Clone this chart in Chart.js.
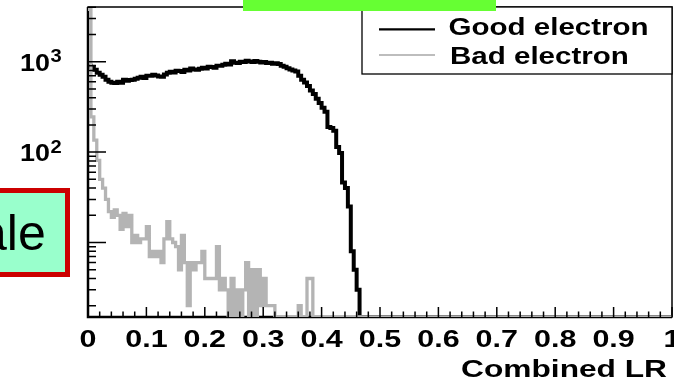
<!DOCTYPE html>
<html><head><meta charset="utf-8">
<script src="https://cdn.jsdelivr.net/npm/chart.js@4"></script>
<style>
html,body{margin:0;padding:0;background:#fff;overflow:hidden;}
#wrap{position:relative;width:674px;height:379px;overflow:hidden;background:#fff;}
canvas{position:absolute;left:0;top:0;}
#green{position:absolute;left:243px;top:0;width:253px;height:11px;background:#66ff33;}
#note{position:absolute;left:-60px;top:188px;width:130px;height:89px;box-sizing:border-box;border:5px solid #cc0000;background:#99ffcc;overflow:hidden;}
#note span{position:absolute;left:34px;top:15px;font:50px/1 'Liberation Sans',Arial,sans-serif;color:#000;white-space:nowrap;}
</style></head><body>
<div id="wrap"><canvas id="c" width="674" height="379"></canvas><div id="green"></div><div id="note"><span>ale</span></div></div>
<script>
// ---- data (histogram bin contents, bin width 0.005 starting at 0; bins after the list are empty) ----
const BIN_WIDTH = 0.005;
const X_MIN = 0, X_MAX = 1;
const Y_MIN = 1.5, Y_MAX = 4030;
const SERIES_NAMES = ['Good electron', 'Bad electron'];
const GOOD = [900,880,815,755,717,680,630,600,585,580,
  600,585,630,615,628,632,648,665,680,662,
  700,698,717,705,685,680,720,755,775,760,
  795,790,770,815,800,840,820,815,836,858,
  840,880,875,860,905,900,925,950,930,1010,
  975,970,1000,995,1025,1005,990,1020,1000,980,
  995,970,975,950,960,945,905,880,845,820,
  800,780,700,630,590,540,480,440,390,350,
  310,280,190,185,172,114,98,46,40,25,
  8,5,3,0];
const BAD = [3800,245,136,81,50,40,30,22,19,23,
  20,14,21,15,20,10,12,10,11,11,
  15,7,8,7,8,6,11,17,11,10,
  9,5,12,6,2,6,5,6,6,8,
  4,4,4,4,9,3,4,3,0,4,
  0,3,0,3,6,0,5,0,5,2,
  4,2,2,2,0,0,0,0,0,0,
  0,0,2,0,0,4,4,0];
const X_TICK_VALUES = [0,0.1,0.2,0.3,0.4,0.5,0.6,0.7,0.8,0.9,1];
const X_TICK_LABELS = ['0','0.1','0.2','0.3','0.4','0.5','0.6','0.7','0.8','0.9','1'];
const Y_TICK_VALUES = [100, 1000];
const Y_TICK_BASE = ['10', '10'];
const Y_TICK_EXP = ['2', '3'];
const X_TITLE = 'Combined LR';

// ---- helpers ----
function histPoints(counts) {
  const pts = counts.map((v, i) => ({x: X_MIN + i * BIN_WIDTH, y: v > Y_MIN ? v : Y_MIN}));
  const last = counts[counts.length - 1];
  pts.push({x: X_MAX, y: last > Y_MIN ? last : Y_MIN});
  return pts;
}
const FONT = '"Liberation Sans", Arial, sans-serif';
function stretchText(ctx, txt, x, y, size, sx, align) {
  ctx.save();
  ctx.font = 'bold ' + size + 'px ' + FONT;
  ctx.fillStyle = '#000';
  ctx.textBaseline = 'alphabetic';
  ctx.textAlign = align;
  ctx.translate(x, y);
  ctx.scale(sx, 1);
  ctx.fillText(txt, 0, 0);
  ctx.restore();
}

const rootFrame = {
  id: 'rootFrame',
  beforeDatasetsDraw(chart) {
    const {ctx, chartArea: a} = chart;
    ctx.save();
    ctx.strokeStyle = '#000';
    ctx.lineWidth = 1.5;
    ctx.strokeRect(a.left, a.top, a.right - a.left, a.bottom - a.top);
    ctx.lineWidth = 2.5;
    ctx.beginPath();
    ctx.moveTo(a.left, a.top); ctx.lineTo(a.left, a.bottom); ctx.lineTo(a.right, a.bottom);
    ctx.stroke();
    ctx.restore();
  },
  afterDatasetsDraw(chart) {
    const {ctx, chartArea: a, scales: {x, y}} = chart;
    ctx.save();
    ctx.strokeStyle = '#000';
    ctx.lineWidth = 1.5;
    ctx.beginPath();
    // x ticks (inside)
    for (let k = 0; k <= 50; k++) {
      const v = k * 0.02;
      const px = x.getPixelForValue(v);
      const major = k % 5 === 0;
      ctx.moveTo(px, a.bottom); ctx.lineTo(px, a.bottom - (major ? 10 : 5.5));
    }
    // y ticks (inside, log)
    [1, 10, 100, 1000].forEach(d => {
      for (let m = 1; m <= 9; m++) {
        const v = m * d;
        if (v < Y_MIN || v > Y_MAX) continue;
        const py = y.getPixelForValue(v);
        ctx.moveTo(a.left, py); ctx.lineTo(a.left + (m === 1 ? 18 : 8), py);
      }
    });
    ctx.stroke();
    ctx.restore();

    // x tick labels
    X_TICK_VALUES.forEach((v, i) => {
      stretchText(ctx, X_TICK_LABELS[i], x.getPixelForValue(v), 347, 24, 1.27, 'center');
    });
    // y tick labels 10^n
    Y_TICK_VALUES.forEach((v, i) => {
      const py = y.getPixelForValue(v);
      stretchText(ctx, Y_TICK_BASE[i], 50, py + 9, 24, 1.12, 'right');
      stretchText(ctx, Y_TICK_EXP[i], 50.5, py + 0.5, 18, 1.12, 'left');
    });
    // axis title
    stretchText(ctx, X_TITLE, 667, 377, 24, 1.32, 'right');

    // legend box
    const ds = chart.data.datasets;
    ctx.save();
    ctx.fillStyle = '#fff';
    ctx.fillRect(362, 7, a.right - 362, 67);
    ctx.strokeStyle = '#000';
    ctx.lineWidth = 1.3;
    ctx.strokeRect(362, 7, a.right - 362, 67);
    ctx.lineWidth = 2.2;
    ctx.strokeStyle = ds[0].borderColor;
    ctx.beginPath(); ctx.moveTo(379, 29.3); ctx.lineTo(435, 29.3); ctx.stroke();
    ctx.strokeStyle = '#bdbdbd';
    ctx.lineWidth = 2;
    ctx.beginPath(); ctx.moveTo(379, 55); ctx.lineTo(435, 55); ctx.stroke();
    ctx.restore();
    stretchText(ctx, ds[0].label, 448.5, 35, 24, 1.23, 'left');
    stretchText(ctx, ds[1].label, 450, 63.5, 24, 1.23, 'left');
  }
};

new Chart(document.getElementById('c').getContext('2d'), {
  type: 'line',
  data: {
    datasets: [
      {label: SERIES_NAMES[0], data: histPoints(GOOD), borderColor: '#000000', borderWidth: 4,
       stepped: 'before', pointRadius: 0, fill: false, order: 2, borderJoinStyle: 'miter', borderCapStyle: 'butt'},
      {label: SERIES_NAMES[1], data: histPoints(BAD), borderColor: '#b4b4b4', borderWidth: 3.3,
       stepped: 'before', pointRadius: 0, fill: false, order: 1, borderJoinStyle: 'miter', borderCapStyle: 'butt'}
    ]
  },
  options: {
    responsive: false, animation: false, devicePixelRatio: 1,
    layout: {padding: {left: 88, top: 7, right: 2, bottom: 62}, autoPadding: false},
    scales: {
      x: {type: 'linear', min: X_MIN, max: X_MAX, display: false},
      y: {type: 'logarithmic', min: Y_MIN, max: Y_MAX, display: false}
    },
    plugins: {legend: {display: false}, tooltip: {enabled: false}}
  },
  plugins: [rootFrame]
});
</script>
</body></html>
